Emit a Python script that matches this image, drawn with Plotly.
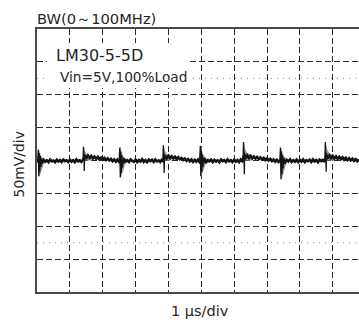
import plotly.graph_objects as go

# ---------------- data ----------------
# time axis in microseconds (1 us/div), voltage in mV (50 mV/div)
SAMPLE_US = 0.05
baseline_mv = [
    # 0.00 - 0.95 us
    1.0, -2.0, 0.5, -2.5, 1.2, -1.8, 0.3, -2.4, 1.4, -1.0, -0.2, -2.6, 1.1, -1.5, 0.6, -2.2, 1.3, -0.9, 0.2, -2.3,
    # 1.00 - 1.95 us
    1.2, -1.7, 0.4, -2.3, 1.5, -1.2, 0.1, -2.0, 1.0, 6.5, 3.8, 7.6, 4.0, 6.9, 3.2, 5.8, 2.6, 5.5, 1.8, 4.3,
    # 2.00 - 2.95 us
    1.5, 3.9, 0.8, 3.1, 0.2, 2.4, -0.9, 1.6, -1.8, 1.2, -2.1, 0.9, -2.4, 1.3, -1.1, 0.4, -2.2, 1.6, -0.7, -1.9,
    # 3.00 - 3.95 us
    1.1, -2.3, 0.6, -1.4, 1.7, -2.0, 0.3, -2.5, 1.2, -0.8, 0.9, -2.1, 1.4, -1.3, 0.2, -2.2, 1.0, -1.0, 6.8, 3.5,
    # 4.00 - 4.95 us
    7.2, 3.6, 6.4, 3.1, 5.6, 2.3, 4.9, 1.9, 3.8, 0.9, 2.9, -0.4, 2.0, -1.2, 1.4, -2.0, 0.8, -1.6, 1.3, -2.2,
    # 5.00 - 5.95 us
    0.7, -1.9, 1.5, -2.4, 0.4, -1.1, 1.2, -2.3, 0.9, -1.5, 0.1, -2.6, 1.4, -0.9, 0.6, -2.0, 1.6, -1.3, 0.3, -2.2,
    # 6.00 - 6.95 us
    1.1, -1.6, 0.5, -2.4, 1.3, -1.0, 7.4, 4.2, 7.8, 3.9, 6.9, 3.3, 6.1, 2.9, 5.4, 2.2, 4.6, 1.5, 3.9, 0.8,
    # 7.00 - 7.95 us
    3.2, 0.1, 2.3, -0.9, 1.5, -1.8, 1.1, -2.2, 0.4, -1.4, 1.2, -2.5, 0.8, -1.2, 1.6, -2.1, 0.2, -1.7, 1.3, -2.3,
    # 8.00 - 8.95 us
    0.9, -1.5, 1.4, -2.4, 0.3, -1.0, 1.1, -2.2, 1.5, -1.3, 0.5, -2.5, 1.2, -0.8, 0.7, -2.0, 7.0, 4.1, 7.7, 3.6,
    # 9.00 - 9.80 us
    6.8, 3.0, 6.2, 2.6, 5.5, 2.1, 4.8, 1.4, 4.0, 0.8, 3.3, 0.2, 2.6, -0.5, 1.9, -1.1, 1.4,
]
baseline_t_us = [round(i * SAMPLE_US, 2) for i in range(len(baseline_mv))]

# ringing bursts (switching edge type A)
spikeA_t_us = [0.06, 2.54, 4.99, 7.43]
spikeA_peak_mv = [19, 23, 26, 23]
spikeA_trough_mv = [-25, -27, -25, -30]

# step-with-decay bursts (switching edge type B)
spikeB_t_us = [1.42, 3.85, 6.29, 8.78]
spikeB_peak_mv = [21, 23, 28, 28]
spikeB_trough_mv = [-16, -19, -21, -17]

# ringing shape descriptors (relative time in us, fraction of peak / trough)
ringA_dt = [-0.04, -0.02, -0.005, 0.01, 0.025, 0.04, 0.06, 0.08, 0.11, 0.14]
ringA_frac = [0.0, 0.85, -0.95, 0.6, -0.7, 0.35, -0.4, 0.15, -0.15, 0.0]
ringB_dt = [-0.02, -0.005, 0.01, 0.02, 0.03, 0.05, 0.08]
ringB_frac = [0.0, 1.0, 0.3, -1.0, 0.4, 0.2, 0.3]

x_range = [0, 9.8]
y_range = [-200, 200]
dotted_levels_mv = [125, -125]

INK = "#141414"
GRID = "#2a2a2a"
SHADE = "#9a9a9a"
TEXT = "#262626"
FONT = "DejaVu Sans"

fig = go.Figure()

# grey persistence envelopes round the edges
for t0, pk, tr in zip(spikeA_t_us, spikeA_peak_mv, spikeA_trough_mv):
    ex = [t0 - 0.03, t0 - 0.01, t0 + 0.04, t0 + 0.10, t0 + 0.18, t0 + 0.20, t0 + 0.14, t0 + 0.06, t0 + 0.01]
    ey = [0, pk, 0.5 * pk, 0.25 * pk, 0.1 * pk, 0, 0.25 * tr, 0.7 * tr, tr]
    fig.add_trace(go.Scatter(x=ex, y=ey, fill="toself", fillcolor=SHADE,
                             mode="none", showlegend=False, hoverinfo="skip"))
for t0, pk, tr in zip(spikeB_t_us, spikeB_peak_mv, spikeB_trough_mv):
    ex = [t0 - 0.01, t0, t0 + 0.05, t0 + 0.12, t0 + 0.25, t0 + 0.25, t0 + 0.03, t0 + 0.02, t0 + 0.01]
    ey = [0, pk, 0.6 * pk, 0.4 * pk, 0.28 * pk, 0, 0, tr, 0]
    fig.add_trace(go.Scatter(x=ex, y=ey, fill="toself", fillcolor=SHADE,
                             mode="none", showlegend=False, hoverinfo="skip"))

# noisy baseline
fig.add_trace(go.Scatter(x=baseline_t_us, y=baseline_mv, mode="lines",
                         line=dict(color=INK, width=2.7), showlegend=False,
                         hoverinfo="skip"))

# ringing bursts
for t0, pk, tr in zip(spikeA_t_us, spikeA_peak_mv, spikeA_trough_mv):
    sx = [t0 + d for d in ringA_dt]
    sy = [f * (pk if f > 0 else -tr) for f in ringA_frac]
    fig.add_trace(go.Scatter(x=sx, y=sy, mode="lines", line=dict(color=INK, width=1.3),
                             showlegend=False, hoverinfo="skip"))
for t0, pk, tr in zip(spikeB_t_us, spikeB_peak_mv, spikeB_trough_mv):
    sx = [t0 + d for d in ringB_dt]
    sy = [f * (pk if f > 0 else -tr) for f in ringB_frac]
    fig.add_trace(go.Scatter(x=sx, y=sy, mode="lines", line=dict(color=INK, width=1.3),
                             showlegend=False, hoverinfo="skip"))

# dotted graticule sub-lines
for lvl in dotted_levels_mv:
    fig.add_shape(type="line", xref="x", yref="y", x0=x_range[0], x1=x_range[1],
                  y0=lvl, y1=lvl, line=dict(color="#8a8a8a", width=1, dash="1px,5px"),
                  layer="between")

# white label box
fig.add_shape(type="rect", xref="paper", yref="paper", x0=0.031, x1=0.475,
              y0=0.776, y1=0.947, fillcolor="white", line=dict(width=0), layer="above")

fig.add_annotation(text="LM30-5-5D", xref="paper", yref="paper", x=0.053, y=0.898,
                   xanchor="left", yanchor="middle", showarrow=False,
                   font=dict(family=FONT, size=16, color=TEXT))
fig.add_annotation(text="Vin=5V,100%Load", xref="paper", yref="paper", x=0.064, y=0.8186,
                   xanchor="left", yanchor="middle", showarrow=False,
                   font=dict(family=FONT, size=13.7, color=TEXT))
fig.add_annotation(text="BW(0～100MHz)", xref="paper", yref="paper", x=-0.006, y=1.039,
                   xanchor="left", yanchor="middle", showarrow=False,
                   font=dict(family=FONT, size=14.7, color=TEXT))
fig.add_annotation(text="50mV/div", xref="paper", yref="paper", x=-0.0575, y=0.487,
                   xanchor="center", yanchor="middle", showarrow=False, textangle=-90,
                   font=dict(family=FONT, size=13.9, color=TEXT))
fig.add_annotation(text="1 μs/div", xref="paper", yref="paper", x=0.506, y=-0.072,
                   xanchor="center", yanchor="middle", showarrow=False,
                   font=dict(family=FONT, size=14.5, color=TEXT))

fig.update_xaxes(range=x_range, dtick=1, tick0=0, showticklabels=False, ticks="",
                 showgrid=True, gridcolor=GRID, gridwidth=1, griddash="6px,3px",
                 zeroline=False, showline=True, linecolor="#4a4a4a", linewidth=1.6,
                 mirror=True)
fig.update_yaxes(range=y_range, dtick=50, tick0=0, showticklabels=False, ticks="",
                 showgrid=True, gridcolor=GRID, gridwidth=1, griddash="6px,3px",
                 zeroline=False, showline=True, linecolor="#4a4a4a", linewidth=1.6,
                 mirror=False)

fig.update_layout(width=359, height=320, margin=dict(l=37, r=0, t=29, b=28),
                  plot_bgcolor="white", paper_bgcolor="white",
                  font=dict(family=FONT))

fig.write_html("out.html", config={"displayModeBar": False},
               post_script="document.body.style.margin='0px';")
